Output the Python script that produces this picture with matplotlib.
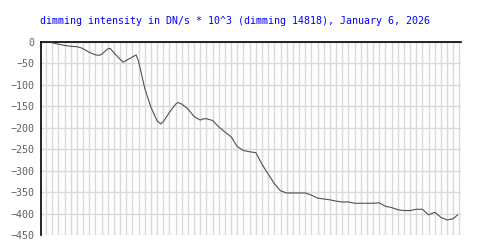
import matplotlib
matplotlib.use("Agg")
import matplotlib.pyplot as plt
import numpy as np

# time steps (one per grid column) and dimming intensity in DN/s * 10^3
steps = [1, 2, 3, 4, 5, 5.8, 7, 8, 8.6, 9, 10, 10.4, 11, 12, 12.5, 13, 14, 14.6,
         15, 16, 17, 18, 18.6, 19, 20, 21, 21.4, 22, 23, 24, 25, 25.5, 26, 27,
         28, 29, 30, 31, 32, 33, 34, 35, 36, 37, 38, 39, 40, 41, 42, 43, 44,
         45, 46, 47, 48, 49, 50, 51, 52, 53, 54, 55, 56, 57, 58, 59, 60, 61,
         62, 63, 64, 65, 66, 66.7]
intensity = [-2, -5, -8, -10, -11, -14, -24, -30, -31, -29, -16, -15, -25, -40,
             -47, -43, -35, -30, -45, -108, -152, -184, -191, -186, -164, -145,
             -141, -145, -156, -174, -182, -179, -179, -183, -198, -210, -221,
             -244, -253, -256, -258, -285, -308, -330, -347, -352, -352, -352,
             -352, -357, -364, -366, -368, -371, -373, -373, -376, -376, -376,
             -376, -375, -383, -386, -391, -393, -393, -390, -390, -403, -397,
             -409, -415, -412, -403]
yticks = [0, -50, -100, -150, -200, -250, -300, -350, -400, -450]
title = "dimming intensity in DN/s * 10^3 (dimming 14818), January 6, 2026"

fig = plt.figure(figsize=(5, 2.5), dpi=100)
ax = fig.add_axes([0.0814, 0.06, 0.84, 0.772])

mono = "DejaVu Sans Mono"
grid_col = "#d9d9d9"

for g in range(0, 68):
    ax.axvline(g, color=grid_col, lw=1.0, zorder=0)
for v in yticks:
    ax.axhline(v, color=grid_col, lw=1.0, zorder=0)

ax.plot(steps, intensity, color="#505050", lw=0.8, zorder=3)

ax.set_xlim(-0.86, 67.2)
ax.set_ylim(-450, 0)
ax.set_yticks(yticks)
ax.set_yticklabels([str(t).replace("-", "\u2212") for t in yticks],
                   fontfamily=mono, fontsize=7.2, color="#606060")
ax.set_xticks([])
ax.tick_params(axis="y", length=0, pad=4.6)

for s in ["right", "bottom"]:
    ax.spines[s].set_visible(False)
for s in ["left", "top"]:
    ax.spines[s].set_color("black")
    ax.spines[s].set_linewidth(1.2)

fig.text(0.079, 1 - 21 / 250, title, color="#0000ff", fontfamily=mono,
         fontsize=7.2, ha="left", va="center")

fig.savefig("out.png", dpi=100)
